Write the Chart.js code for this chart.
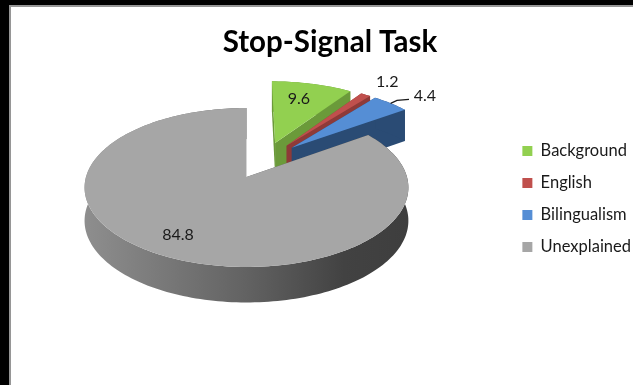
<!DOCTYPE html>
<html>
<head>
<meta charset="utf-8">
<script src="https://cdn.jsdelivr.net/npm/chart.js@4/dist/chart.umd.js"></script>
<style>
  html, body { margin: 0; height: 100%; background: #000; overflow: hidden; }
  #frame { position: absolute; left: 9px; top: 5px; width: 624px; height: 380px; background: #fff; border-left: 2px solid #969696; border-top: 2px solid #969696; box-sizing: border-box; }
</style>
</head>
<body>
<div id="frame"><canvas id="chart"></canvas></div>
<script>
const categories = ['Background', 'English', 'Bilingualism', 'Unexplained'];
const values = [9.6, 1.2, 4.4, 84.8];
const topColors = ['#92d050', '#c0504d', '#558ed5', '#a6a6a6'];
const sideColors = ['#6b9a3a', '#8e3a38', '#2a4b74', null];
const labelReach = [0.74, 1.31, 1.29, 0.77];
const labelTurn = [-2.5, 0, 3.5, 3];

// pie plane -> screen, fitted to the tilted view (far side is squeezed)
const view = { x: 235.5, y: 170, rx: 160.5, ry: 78.1, persp: 0.132, shiftU: 0.1147, shiftV: 0.2222, depth: 33 };

function project(u, v) {
  const uu = u + view.shiftU, vv = v + view.shiftV;
  const w = 1 / (1 + view.persp * vv);
  return { x: view.x + view.rx * uu * w, y: view.y - view.ry * vv * w, w };
}

function slicePoints(arc) {
  const { startAngle, endAngle, outerRadius } = arc;
  const mid = (startAngle + endAngle) / 2;
  const off = arc.options.offset / outerRadius;
  const ax = Math.cos(mid) * off, ay = -Math.sin(mid) * off;
  const rim = [];
  const steps = Math.max(6, Math.ceil((endAngle - startAngle) * 40));
  for (let i = 0; i <= steps; i++) {
    const t = startAngle + (endAngle - startAngle) * i / steps;
    rim.push(project(ax + Math.cos(t), ay - Math.sin(t)));
  }
  return { apex: project(ax, ay), rim, ax, ay, mid };
}

function fillPoly(ctx, pts, fill) {
  ctx.beginPath();
  pts.forEach((p, i) => i ? ctx.lineTo(p.x, p.y) : ctx.moveTo(p.x, p.y));
  ctx.closePath();
  ctx.fillStyle = fill;
  ctx.fill();
}

const down = p => ({ x: p.x, y: p.y + view.depth * (0.5 + 0.5 * p.w) });

const pie3d = {
  id: 'pie3d',
  beforeDatasetDraw(chart, args) {
    const ctx = chart.ctx;
    const arcs = chart.getDatasetMeta(args.index).data;
    ctx.save();
    arcs.forEach((arc, i) => {
      const s = slicePoints(arc);
      let side = sideColors[i];
      if (!side) {
        side = ctx.createLinearGradient(74, 0, 398, 0);
        side.addColorStop(0, '#8e8e8e');
        side.addColorStop(0.5, '#626262');
        side.addColorStop(0.8, '#424242');
        side.addColorStop(1, '#3e3e3e');
      }
      const first = s.rim[0], last = s.rim[s.rim.length - 1];
      fillPoly(ctx, [s.apex, first, down(first), down(s.apex)], side);
      fillPoly(ctx, [s.apex, last, down(last), down(s.apex)], side);
      fillPoly(ctx, s.rim.concat(s.rim.map(down).reverse()), side);
      fillPoly(ctx, [s.apex].concat(s.rim), topColors[i]);
    });
    // value labels
    ctx.fillStyle = '#1a1a1a';
    ctx.font = '16px Lato';
    ctx.textAlign = 'center';
    ctx.textBaseline = 'middle';
    arcs.forEach((arc, i) => {
      const s = slicePoints(arc);
      const r = labelReach[i];
      const a = s.mid + labelTurn[i] * Math.PI / 180;
      const p = project(s.ax + Math.cos(a) * r, s.ay - Math.sin(a) * r);
      ctx.fillText(String(values[i]), p.x, p.y + 1);
    });
    // leader for the bilingualism label
    const b = slicePoints(arcs[2]);
    const from = project(b.ax + Math.cos(b.mid), b.ay - Math.sin(b.mid));
    const elbow = project(b.ax + Math.cos(b.mid) * 1.07, b.ay - Math.sin(b.mid) * 1.07);
    ctx.beginPath();
    ctx.moveTo(from.x, from.y);
    ctx.lineTo(elbow.x, elbow.y);
    ctx.lineTo(elbow.x + 12, elbow.y - 1);
    ctx.strokeStyle = '#1a1a1a';
    ctx.lineWidth = 1.3;
    ctx.stroke();
    ctx.restore();
    return false;
  }
};

new Chart(document.getElementById('chart'), {
  type: 'pie',
  data: {
    labels: categories,
    datasets: [{ data: values, backgroundColor: topColors, borderWidth: 0, offset: 25, radius: 100 }]
  },
  plugins: [pie3d],
  options: {
    responsive: true,
    maintainAspectRatio: false,
    animation: false,
    events: [],
    layout: { padding: { left: 8, right: -8, top: 6, bottom: 0 } },
    plugins: {
      tooltip: { enabled: false },
      title: {
        display: true,
        text: 'Stop-Signal Task',
        color: '#000',
        font: { family: 'Lato', size: 29.5, weight: 'bold' },
        padding: { top: 12, bottom: 18 }
      },
      legend: {
        position: 'right',
        labels: {
          color: '#1a1a1a',
          font: { family: 'Lato', size: 16.5 },
          boxWidth: 10,
          boxHeight: 10,
          padding: 15.5
        }
      }
    }
  }
});
</script>
</body>
</html>
